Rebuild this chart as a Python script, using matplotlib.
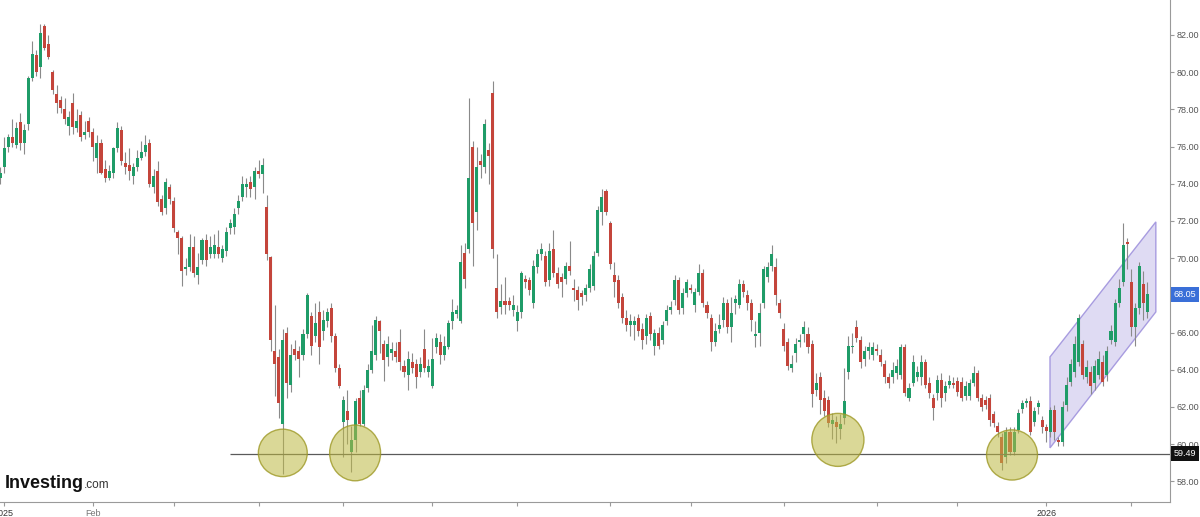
import numpy as np
import matplotlib
matplotlib.use('Agg')
import matplotlib.pyplot as plt
from matplotlib.patches import Ellipse, Polygon
from matplotlib.transforms import blended_transform_factory

# daily OHLC (one candle per trading day)
opens = [74.3, 74.9, 76.0, 76.5, 76.1, 77.3, 76.2, 77.2, 79.7, 80.9,
         80.3, 82.5, 81.5, 80.0, 78.8, 78.5, 78.0, 77.1, 78.35, 77.0,
         77.7, 76.6, 77.4, 76.8, 75.4, 76.2, 74.8, 74.3, 74.6, 75.9,
         76.9, 75.1, 75.0, 74.4, 74.9, 75.4, 75.7, 76.2, 73.8, 74.7,
         73.2, 72.7, 73.8, 73.1, 71.4, 71.1, 69.4, 69.5, 70.6, 69.1,
         69.9, 71.0, 70.2, 70.2, 70.6, 70.0, 70.4, 71.6, 71.7, 72.7,
         73.3, 73.8, 74.1, 73.8, 74.7, 74.5, 72.75, 70.05, 65.0, 64.7,
         61.1, 66.0, 63.2, 65.1, 65.0, 64.8, 65.9, 66.9, 65.8, 67.1,
         66.1, 66.6, 67.3, 65.8, 64.1, 61.2, 61.8, 59.6, 60.2, 62.5,
         61.1, 63.0, 64.0, 64.8, 66.6, 65.4, 64.7, 64.9, 65.0, 65.5,
         64.2, 63.7, 64.4, 64.3, 63.9, 65.1, 63.9, 63.1, 65.2, 65.5,
         64.8, 65.2, 66.6, 67.0, 66.6, 70.3, 70.5, 76.0, 72.5, 75.2,
         74.9, 75.8, 78.9, 68.4, 67.4, 67.7, 67.7, 67.2, 66.6, 67.1,
         68.9, 68.8, 67.6, 69.5, 70.2, 70.1, 68.8, 70.5, 69.2, 69.0,
         68.9, 69.6, 68.4, 68.3, 68.1, 68.0, 68.4, 68.5, 70.3, 72.5,
         73.6, 71.9, 69.1, 68.8, 67.9, 66.8, 66.4, 66.4, 66.8, 66.2,
         65.8, 66.9, 65.3, 66.0, 65.6, 66.6, 67.2, 67.75, 68.8, 67.3,
         68.1, 68.4, 67.5, 68.2, 69.2, 67.5, 66.8, 65.5, 66.2, 66.7,
         67.6, 66.3, 67.6, 67.5, 68.6, 68.0, 67.6, 65.8, 66.0, 67.6,
         69.0, 69.6, 69.5, 67.6, 66.2, 65.5, 64.1, 64.9, 65.5, 65.9,
         65.9, 65.4, 62.9, 63.6, 62.5, 62.4, 61.1, 61.2, 60.8, 61.4,
         63.9, 65.2, 66.3, 65.6, 64.6, 65.0, 64.8, 65.1, 64.8, 64.3,
         63.6, 63.6, 63.8, 63.7, 65.2, 62.5, 63.3, 63.6, 63.6, 64.4,
         63.3, 62.5, 62.75, 63.45, 62.75, 63.2, 63.3, 63.4, 63.35, 62.6,
         62.6, 63.3, 63.85, 62.5, 62.4, 62.5, 61.6, 61.0, 60.4, 59.3,
         60.65, 59.6, 60.75, 61.9, 62.2, 62.3, 61.2, 62.0, 61.3, 60.9,
         60.65, 61.85, 60.2, 60.1, 62.1, 63.35, 63.9, 64.4, 65.4, 63.6,
         63.9, 63.3, 63.7, 64.4, 63.7, 65.6, 65.5, 67.6, 68.7, 70.85,
         68.7, 66.3, 67.3, 68.6, 67.1]
highs = [74.9, 76.5, 76.7, 77.5, 77.3, 77.8, 77.2, 79.8, 81.7, 81.2,
         82.6, 82.6, 82.0, 80.1, 79.3, 78.7, 78.6, 77.9, 78.9, 78.0,
         77.9, 77.4, 77.6, 77.0, 76.6, 76.4, 75.3, 75.0, 76.0, 77.3,
         77.1, 75.7, 75.9, 75.1, 75.8, 76.3, 76.6, 76.4, 74.8, 75.2,
         73.4, 74.3, 74.0, 73.3, 71.5, 71.2, 70.0, 71.3, 71.2, 70.3,
         71.1, 71.3, 71.2, 71.3, 71.5, 70.7, 71.7, 72.1, 72.7, 73.4,
         74.4, 74.3, 74.4, 74.9, 75.3, 75.4, 73.4, 70.1, 67.5, 65.1,
         66.2, 66.3, 65.4, 65.6, 65.3, 66.2, 68.1, 67.1, 67.6, 67.7,
         67.2, 67.3, 67.6, 66.0, 64.3, 62.6, 62.9, 61.0, 62.5, 62.9,
         63.2, 64.3, 66.4, 66.9, 66.7, 65.6, 65.8, 65.5, 65.5, 66.2,
         64.5, 65.0, 64.9, 64.6, 64.7, 66.2, 64.6, 65.7, 66.0, 65.9,
         65.8, 66.7, 67.8, 67.5, 70.7, 70.8, 78.6, 76.3, 76.0, 75.6,
         77.5, 76.2, 79.5, 70.2, 68.6, 69.0, 67.9, 68.0, 67.5, 69.3,
         69.1, 69.0, 69.9, 70.5, 70.8, 70.4, 70.8, 71.5, 69.5, 69.2,
         69.8, 70.9, 68.9, 68.5, 68.3, 68.6, 69.7, 70.4, 72.8, 73.7,
         73.7, 72.0, 69.8, 69.1, 68.1, 67.2, 67.0, 66.9, 67.0, 66.5,
         67.0, 67.1, 66.2, 66.3, 66.6, 67.5, 67.7, 69.1, 69.0, 68.4,
         68.9, 68.6, 68.4, 69.7, 69.4, 67.7, 67.0, 66.5, 67.0, 67.9,
         67.8, 67.9, 68.0, 68.9, 68.8, 68.3, 67.8, 66.6, 67.6, 69.6,
         69.8, 70.7, 70.0, 67.8, 66.5, 65.7, 64.8, 65.7, 65.9, 66.6,
         66.3, 65.6, 63.8, 63.9, 62.9, 62.6, 61.7, 61.5, 61.6, 64.1,
         65.8, 66.0, 66.7, 65.8, 65.3, 65.5, 65.5, 65.4, 65.1, 64.5,
         63.8, 64.4, 64.6, 65.4, 65.4, 63.3, 64.8, 64.2, 64.8, 64.6,
         63.6, 62.7, 63.7, 63.8, 63.4, 63.7, 63.6, 63.6, 63.6, 63.4,
         63.5, 64.2, 64.0, 62.7, 62.6, 62.7, 61.8, 61.2, 60.6, 60.9,
         60.9, 60.9, 61.9, 62.4, 62.5, 62.6, 62.0, 62.4, 61.5, 61.1,
         62.0, 62.1, 60.4, 62.3, 63.6, 64.6, 65.8, 67.0, 65.6, 64.5,
         64.2, 64.5, 65.0, 64.8, 65.3, 66.4, 67.8, 68.9, 71.9, 71.1,
         69.4, 67.6, 69.8, 69.3, 68.7]
lows = [74.0, 74.6, 75.7, 76.0, 75.9, 75.8, 75.6, 76.9, 79.5, 79.8,
        79.7, 81.2, 80.7, 78.8, 77.8, 77.8, 77.2, 76.6, 76.7, 76.8,
        76.3, 76.4, 76.5, 75.2, 74.6, 74.5, 74.1, 74.2, 74.3, 75.7,
        75.0, 74.5, 74.2, 74.0, 74.7, 75.3, 75.5, 73.8, 73.5, 72.8,
        72.3, 72.4, 72.9, 71.4, 70.2, 68.5, 69.1, 69.3, 69.0, 68.6,
        69.7, 69.6, 70.0, 70.0, 70.0, 69.8, 70.1, 71.3, 71.3, 72.4,
        73.1, 73.3, 73.3, 73.2, 74.3, 73.5, 69.9, 65.0, 62.6, 61.4,
        58.4, 62.5, 62.8, 64.5, 63.6, 64.5, 65.7, 64.8, 65.5, 64.3,
        65.6, 66.3, 65.5, 63.9, 63.0, 59.3, 60.0, 58.5, 59.6, 61.0,
        61.0, 62.8, 63.8, 64.5, 64.9, 63.4, 64.2, 64.5, 64.4, 64.0,
        63.6, 62.9, 63.8, 63.0, 63.6, 63.9, 63.6, 63.0, 64.9, 64.3,
        64.5, 65.1, 66.2, 66.8, 66.5, 68.4, 70.3, 69.6, 71.5, 74.3,
        74.6, 74.0, 70.0, 66.8, 67.0, 67.0, 67.2, 66.9, 66.1, 66.8,
        68.4, 68.0, 67.3, 69.2, 69.9, 68.5, 68.5, 69.0, 68.4, 67.9,
        68.6, 69.1, 67.7, 67.2, 67.5, 67.7, 68.2, 68.3, 70.1, 71.8,
        72.3, 69.4, 67.9, 67.3, 66.5, 66.1, 65.8, 65.6, 65.8, 65.1,
        65.4, 65.6, 64.8, 65.1, 65.4, 66.4, 67.0, 67.5, 67.0, 67.0,
        67.9, 68.1, 67.1, 68.0, 67.4, 66.8, 65.0, 65.3, 66.0, 66.3,
        66.0, 65.5, 67.0, 67.3, 67.9, 67.2, 66.1, 65.2, 65.3, 67.3,
        68.7, 69.3, 67.5, 66.8, 65.0, 64.0, 63.9, 64.4, 65.2, 65.5,
        64.9, 62.0, 62.6, 61.6, 61.5, 60.9, 60.3, 60.06, 60.3, 61.1,
        63.5, 64.9, 65.5, 64.1, 64.2, 64.6, 64.5, 64.8, 64.2, 63.3,
        63.0, 63.3, 63.5, 63.5, 62.6, 62.3, 63.1, 63.4, 63.2, 63.0,
        62.5, 61.3, 62.4, 62.0, 62.3, 63.0, 63.0, 62.6, 62.3, 62.4,
        62.4, 63.1, 62.3, 61.8, 61.9, 61.0, 60.9, 60.4, 58.6, 59.0,
        59.4, 59.4, 60.6, 61.7, 62.0, 60.5, 61.0, 61.6, 60.6, 60.1,
        60.4, 60.2, 59.9, 59.9, 61.8, 63.1, 63.6, 64.2, 63.5, 63.3,
        62.7, 62.9, 63.5, 63.1, 63.4, 65.4, 65.3, 67.4, 68.5, 69.4,
        65.8, 65.3, 67.0, 66.7, 66.8]
closes = [74.6, 75.9, 76.5, 76.2, 77.0, 76.2, 76.9, 79.7, 81.0, 80.0,
          82.1, 81.3, 80.8, 79.05, 78.35, 78.1, 77.5, 77.6, 77.05, 77.4,
          76.5, 76.8, 76.8, 76.0, 76.2, 74.6, 74.3, 74.7, 75.9, 77.0,
          75.2, 74.9, 74.7, 74.9, 75.4, 75.7, 76.1, 74.0, 74.4, 73.0,
          72.5, 74.1, 73.2, 71.6, 71.1, 69.3, 69.5, 70.6, 69.2, 69.5,
          71.0, 69.9, 70.6, 70.7, 70.2, 70.5, 71.4, 71.9, 72.4, 73.1,
          74.0, 74.0, 73.7, 74.7, 74.5, 75.0, 70.2, 65.6, 64.3, 62.2,
          65.6, 63.3, 64.8, 64.8, 64.6, 65.9, 68.0, 65.3, 66.5, 65.2,
          66.7, 67.1, 65.8, 64.1, 63.1, 62.4, 61.3, 60.2, 62.3, 61.1,
          62.9, 64.0, 65.0, 66.7, 66.1, 64.5, 65.4, 65.1, 64.7, 64.4,
          63.9, 64.6, 64.1, 63.6, 64.3, 64.1, 64.2, 64.6, 65.7, 64.8,
          65.3, 66.5, 67.1, 67.2, 69.8, 68.9, 74.3, 71.9, 74.9, 75.0,
          77.2, 75.5, 70.5, 67.1, 67.7, 67.5, 67.5, 67.5, 67.1, 69.2,
          68.7, 68.3, 69.6, 70.2, 70.5, 68.7, 70.4, 69.2, 68.6, 68.7,
          69.6, 69.3, 68.3, 67.75, 67.9, 68.4, 69.4, 70.1, 72.6, 73.3,
          72.5, 69.7, 68.7, 67.6, 66.8, 66.4, 66.6, 66.6, 66.1, 65.6,
          66.8, 65.9, 66.0, 65.3, 66.4, 67.2, 67.4, 68.8, 67.2, 68.1,
          68.7, 68.3, 68.2, 69.2, 67.6, 67.05, 65.5, 66.1, 66.4, 67.6,
          66.3, 67.05, 67.8, 68.6, 68.2, 67.6, 66.7, 65.9, 67.05, 69.4,
          69.5, 70.2, 68.0, 67.05, 65.3, 64.2, 64.3, 65.4, 65.6, 66.3,
          65.2, 62.7, 63.3, 62.4, 61.8, 61.15, 61.3, 60.9, 61.1, 62.3,
          65.3, 65.3, 65.7, 64.4, 65.0, 65.2, 65.2, 65.0, 64.4, 63.6,
          63.3, 64.0, 64.2, 65.2, 62.75, 63.0, 64.4, 63.9, 64.4, 63.2,
          62.75, 61.95, 63.45, 62.5, 63.1, 63.4, 63.2, 62.8, 62.5, 63.1,
          63.3, 63.85, 62.5, 62.0, 62.1, 61.3, 61.15, 60.65, 59.0, 60.65,
          59.6, 60.65, 61.7, 62.2, 62.3, 60.65, 61.8, 62.2, 60.9, 60.7,
          61.85, 60.65, 60.1, 62.0, 63.2, 64.3, 65.4, 66.8, 63.7, 64.15,
          63.1, 64.2, 64.6, 63.35, 65.0, 66.1, 67.6, 68.4, 70.7, 70.75,
          66.3, 67.3, 69.6, 67.6, 68.05]

# monthly ticks (candle index of the first session of each month)
month_idx = [1, 23, 43, 64, 85, 107, 128, 151, 171, 194, 217, 237, 259, 280]
month_lbl = ['2025', 'Feb', '', '', '', '', '', '', '', '', '', '', '2026', '']
y_ticks = [58, 60, 62, 64, 66, 68, 70, 72, 74, 76, 78, 80, 82]

last_price = 68.05
support = 59.49
support_start = 57
# highlighted bottoms: (candle index, price, width in candles, height in price)
circles = [(70.0, 59.53, 12.1, 2.55), (87.9, 59.53, 12.6, 3.0),
           (207.4, 60.23, 12.9, 2.85), (250.5, 59.42, 12.6, 2.7)]
# rising channel corners (candle index, price)
channel = [(259.9, 64.69), (286.1, 71.95), (286.1, 67.11), (259.9, 59.80)]

o = np.array(opens); h = np.array(highs); l = np.array(lows); c = np.array(closes)
x = np.arange(len(o))
up = c >= o

fig = plt.figure(figsize=(12, 5.17), dpi=100)
ax = fig.add_axes([0.0, 15 / 517, 1170 / 1200, 502 / 517])

ax.add_patch(Polygon(channel, closed=True, facecolor='#dcd8f2', edgecolor='#a093dd',
                     lw=1, alpha=0.9, zorder=1))

ax.vlines(x, l, h, color='#8a8a8a', lw=0.8, zorder=2)
body_h = np.maximum(np.abs(c - o), 0.08)
ax.bar(x[up], body_h[up], bottom=np.minimum(o, c)[up], width=0.75,
       color='#1f9c68', zorder=3)
ax.bar(x[~up], body_h[~up], bottom=np.minimum(o, c)[~up], width=0.75,
       color='#c4453b', zorder=3)

ax.hlines(support, support_start, 300, color='#5a5a5a', lw=0.9, zorder=4)

for cx, cy, w, hh in circles:
    ax.add_patch(Ellipse((cx, cy), w, hh, facecolor=(0.74, 0.72, 0.26, 0.55),
                         edgecolor=(0.62, 0.60, 0.15, 0.8), lw=1, zorder=5))

ax.set_xlim(0, 1170 / 4.04)
ax.set_ylim(56.89, 83.88)

for s in ['top', 'left']:
    ax.spines[s].set_visible(False)
ax.spines['right'].set_color('#9a9a9a')
ax.spines['bottom'].set_color('#9a9a9a')

ax.yaxis.tick_right()
ax.set_yticks(y_ticks)
ax.set_yticklabels(['%.2f' % v for v in y_ticks], fontsize=6.5, color='#555555',
                   family='Liberation Sans')
ax.tick_params(axis='y', length=3, color='#9a9a9a', pad=2)

ax.set_xticks(month_idx)
ax.set_xticklabels(month_lbl, fontsize=6.5, family='Liberation Sans')
ax.tick_params(axis='x', length=3, color='#9a9a9a', pad=2)
for t in ax.get_xticklabels():
    t.set_color('#333333' if t.get_text().isdigit() else '#777777')
# the tag for the last price sits over the 68.00 label
for t, v in zip(ax.get_yticklabels(), y_ticks):
    if abs(v - last_price) < 0.5:
        t.set_visible(False)

# price tags on the scale
tr = blended_transform_factory(ax.transAxes, ax.transData)
ax.text(1.003, last_price, '%.2f' % last_price, transform=tr, fontsize=6.5,
        color='white', va='center', ha='left', family='Liberation Sans', zorder=10,
        bbox=dict(boxstyle='square,pad=0.3', fc='#3a6fd8', ec='none'), clip_on=False)
ax.text(1.003, support, '%.2f' % support, transform=tr, fontsize=6.5,
        color='white', va='center', ha='left', family='Liberation Sans', zorder=10,
        bbox=dict(boxstyle='square,pad=0.3', fc='#111111', ec='none'), clip_on=False)

# logo
fig.text(5 / 1200, (517 - 488) / 517, 'Investing', fontsize=13, fontweight='bold',
         family='Liberation Sans', color='#111111', va='baseline')
fig.text(84 / 1200, (517 - 488) / 517, '.com', fontsize=8.5,
         family='Liberation Sans', color='#333333', va='baseline')

fig.savefig('out.png', dpi=100, facecolor='white')
